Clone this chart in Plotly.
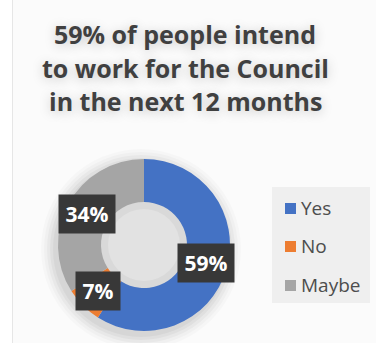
import math
import plotly.graph_objects as go

# Survey responses
categories = ["Yes", "No", "Maybe"]
shares = [59, 7, 34]
colors = ["#4472C4", "#ED7D31", "#A5A5A5"]
title_lines = ["59% of people intend", "to work for the Council", "in the next 12 months"]

W, H = 376, 343
FONT = "Open Sans"
# donut geometry in pixels
cx, cy, r_out, hole = 144, 245, 86, 0.5

fig = go.Figure()

fig.add_trace(go.Pie(
    labels=categories,
    values=shares,
    hole=hole,
    sort=False,
    direction="clockwise",
    rotation=0,
    marker=dict(colors=colors, line=dict(width=0)),
    textinfo="none",
    hoverinfo="label+percent",
    showlegend=False,
    domain=dict(x=[(cx - r_out) / W, (cx + r_out) / W],
                y=[1 - (cy + r_out) / H, 1 - (cy - r_out) / H]),
))

shapes = []
# panel background and faint left edge
shapes.append(dict(type="rect", xref="x", yref="y", x0=12, x1=W, y0=0, y1=H,
                   fillcolor="#fbfbfb", line=dict(width=0), layer="below"))
shapes.append(dict(type="line", xref="x", yref="y", x0=12.5, x1=12.5, y0=0, y1=H,
                   line=dict(color="#e6e6e6", width=1), layer="below"))
# soft shadow around the ring, offset down-left
for k, a in enumerate([0.02, 0.025, 0.03, 0.035, 0.04]):
    rr = r_out + 14 - 3 * k
    shapes.append(dict(type="circle", xref="x", yref="y",
                       x0=cx - rr - 3, x1=cx + rr - 3, y0=cy - rr + 4, y1=cy + rr + 4,
                       fillcolor=f"rgba(0,0,0,{a})", line=dict(width=0), layer="below"))
# shaded hole
r_in = r_out * hole
shapes.append(dict(type="circle", xref="x", yref="y",
                   x0=cx - r_in, x1=cx + r_in, y0=cy - r_in, y1=cy + r_in,
                   fillcolor="#d9d9d9", line=dict(width=0), layer="below"))
shapes.append(dict(type="circle", xref="x", yref="y",
                   x0=cx - r_in + 7, x1=cx + r_in - 7, y0=cy - r_in + 7, y1=cy + r_in - 7,
                   fillcolor="#e2e2e2", line=dict(width=0), layer="below"))

# legend panel
lx0, lx1, ly0, ly1 = 272, 370, 187, 303
shapes.append(dict(type="rect", xref="x", yref="y", x0=lx0, x1=lx1, y0=ly0, y1=ly1,
                   fillcolor="#efefef", line=dict(width=0), layer="below"))

annotations = []
# title, one annotation per line for tighter leading
for i, line in enumerate(title_lines):
    annotations.append(dict(
        xref="x", yref="y", x=185, y=34 + 33.5 * i, xanchor="center", yanchor="middle",
        text=line, showarrow=False,
        font=dict(family=FONT, size=25, color="#404040", weight="bold",
                  shadow="0px 2px 12px rgba(0,0,0,0.22)"),
    ))

# legend entries
leg_y = [207, 245, 284]
for name, col, yy in zip(categories, colors, leg_y):
    shapes.append(dict(type="rect", xref="x", yref="y", x0=285, x1=296,
                       y0=yy - 4, y1=yy + 7, fillcolor=col, line=dict(width=0)))
    annotations.append(dict(xref="x", yref="y", x=299, y=yy + 1, xanchor="left",
                            yanchor="middle", text=name, showarrow=False,
                            font=dict(family=FONT, size=19, color="#4d4d4d")))

# value labels at the middle of each ring segment
r_mid = r_out * (1 + hole) / 2
total = sum(shares)
cum = 0
for v in shares:
    frac = (cum + v / 2) / total
    ang = 2 * math.pi * frac
    x = cx + r_mid * math.sin(ang)
    y = cy - r_mid * math.cos(ang)
    cum += v
    annotations.append(dict(
        xref="x", yref="y", x=x, y=y, xanchor="center", yanchor="middle",
        text=f"<b>{round(100 * v / total)}%</b>", showarrow=False,
        bgcolor="#383838", borderpad=5, width=46 if v >= 10 else 34,
        font=dict(family=FONT, size=21, color="#ffffff"),
    ))

fig.update_layout(
    width=W, height=H,
    margin=dict(l=0, r=0, t=0, b=0),
    paper_bgcolor="#ffffff",
    plot_bgcolor="rgba(0,0,0,0)",
    xaxis=dict(range=[0, W], visible=False, fixedrange=True, domain=[0, 1]),
    yaxis=dict(range=[H, 0], visible=False, fixedrange=True, domain=[0, 1]),
    shapes=shapes,
    annotations=annotations,
    showlegend=False,
)

fig.write_html("out.html")
